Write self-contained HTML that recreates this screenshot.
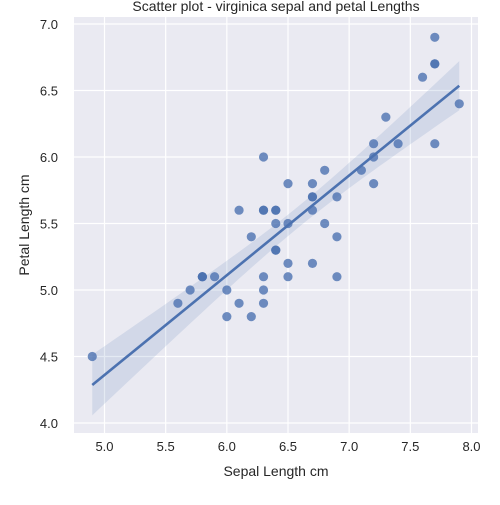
<!DOCTYPE html>
<html><head><meta charset="utf-8"><style>
body{margin:0;background:#fff;font-family:"Liberation Sans",Arial,sans-serif}
svg text{font-family:"Liberation Sans",Arial,sans-serif;fill:#262626}
</style></head><body>
<svg id="chart" width="500" height="500"></svg>
<script>
const sepalLength=[6.3,5.8,7.1,6.3,6.5,7.6,4.9,7.3,6.7,7.2,6.5,6.4,6.8,5.7,5.8,6.4,6.5,7.7,7.7,6.0,6.9,5.6,7.7,6.3,6.7,7.2,6.2,6.1,6.4,7.2,7.4,7.9,6.4,6.3,6.1,7.7,6.3,6.4,6.0,6.9,6.7,6.9,5.8,6.8,6.7,6.7,6.3,6.5,6.2,5.9];
const petalLength=[6.0,5.1,5.9,5.6,5.8,6.6,4.5,6.3,5.8,6.1,5.1,5.3,5.5,5.0,5.1,5.3,5.5,6.7,6.9,5.0,5.7,4.9,6.7,4.9,5.7,6.0,4.8,4.9,5.6,5.8,6.1,6.4,5.6,5.1,5.6,6.1,5.6,5.5,4.8,5.4,5.6,5.1,5.1,5.9,5.7,5.2,5.0,5.2,5.4,5.1];
const xTicks=[5.0,5.5,6.0,6.5,7.0,7.5,8.0];
const yTicks=[4.0,4.5,5.0,5.5,6.0,6.5,7.0];
const NS="http://www.w3.org/2000/svg";
const svg=document.getElementById('chart');
const L=74,R=478,T=17,B=433;
const X=v=>104.5+(v-5)*122.33;
const Y=v=>423-(v-4)*133;
function el(t,a,p){const e=document.createElementNS(NS,t);for(const k in a)e.setAttribute(k,a[k]);(p||svg).appendChild(e);return e;}
const bg=el('rect',{x:L,y:T,width:R-L,height:B-T,fill:'#eaeaf2'});


xTicks.forEach(t=>{
 const g=el('line',{x1:X(t),x2:X(t),y1:T,y2:B,stroke:'#fff','stroke-width':1.2});
 
 
 const tx=el('text',{x:X(t),y:B+18,'text-anchor':'middle','font-size':13});tx.textContent=t.toFixed(1);
 
 
});
yTicks.forEach(t=>{
 const g=el('line',{x1:L,x2:R,y1:Y(t),y2:Y(t),stroke:'#fff','stroke-width':1.2});
 
 
 const tx=el('text',{x:L-16,y:Y(t)+5,'text-anchor':'end','font-size':13});tx.textContent=t.toFixed(1);
 
 
});
// regression
const n=sepalLength.length;
const mx=sepalLength.reduce((a,b)=>a+b)/n,my=petalLength.reduce((a,b)=>a+b)/n;
let sxx=0,sxy=0;for(let i=0;i<n;i++){sxx+=(sepalLength[i]-mx)**2;sxy+=(sepalLength[i]-mx)*(petalLength[i]-my);}
const b=sxy/sxx,a=my-b*mx;
let sse=0;for(let i=0;i<n;i++)sse+=(petalLength[i]-a-b*sepalLength[i])**2;
const s=Math.sqrt(sse/(n-2));
const xmin=Math.min(...sepalLength),xmax=Math.max(...sepalLength);
let up=[],lo=[];
for(let k=0;k<=60;k++){const x=xmin+(xmax-xmin)*k/60;const yh=a+b*x;const h=2.01*s*Math.sqrt(1/n+(x-mx)**2/sxx);
 up.push(X(x)+','+Y(yh+h));lo.unshift(X(x)+','+Y(yh-h));}
const band=el('polygon',{points:up.concat(lo).join(' '),fill:'#4c72b0','fill-opacity':0.15});


sepalLength.forEach((x,i)=>{
 const c=el('circle',{cx:X(x),cy:Y(petalLength[i]),r:4.6,fill:'#4c72b0','fill-opacity':0.8});
 
 
});
const ln=el('line',{x1:X(xmin),y1:Y(a+b*xmin),x2:X(xmax),y2:Y(a+b*xmax),stroke:'#4c72b0','stroke-width':2.6});


const tt=el('text',{x:276,y:11,'text-anchor':'middle','font-size':14});tt.textContent='Scatter plot - virginica sepal and petal Lengths';


const xl=el('text',{x:276,y:476,'text-anchor':'middle','font-size':14});xl.textContent='Sepal Length cm';


const yl=el('text',{x:0,y:0,'text-anchor':'middle','font-size':14,transform:'translate(29,225) rotate(-90)'});yl.textContent='Petal Length cm';


</script>
</body></html>
